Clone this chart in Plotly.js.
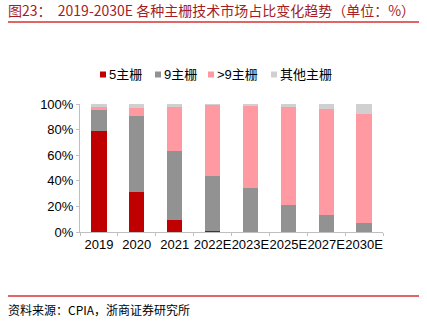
<!DOCTYPE html>
<html><head><meta charset="utf-8">
<script src="https://cdn.plot.ly/plotly-3.0.1.min.js"></script>
<style>html,body{margin:0;padding:0;background:#fff}#chart{width:427px;height:329px}</style>
</head><body><div id="chart"></div>
<script>
var categories = ['2019','2020','2021','2022E','2023E','2025E','2027E','2030E'];
var seriesNames = ['5主栅','9主栅','>9主栅','其他主栅'];
var s5 = [79, 31, 9, 1, 0.3, 0, 0, 0];
var s9 = [16, 60, 54, 43, 34, 21, 13, 7];
var sOver9 = [3, 6, 35, 55, 64, 77, 83, 85];
var sOther = [2, 3, 2, 1, 1.7, 2, 4, 8];
var yTickVals = [0, 20, 40, 60, 80, 100];
var yTickText = ['0%','20%','40%','60%','80%','100%'];
var colors = ['#c00000','#929292','#ff9aa3','#d0d0d0'];
var seriesData = [s5, s9, sOver9, sOther];

var L = 80, R = 383, T = 104, B = 232, W = 427, H = 329;
function px(x){ return (x - L) / (R - L); }
function py(y){ return (B - y) / (B - T); }

var traces = seriesData.map(function(d, i){
  return {type:'bar', x:categories, y:d, name:seriesNames[i],
    marker:{color:colors[i], line:{width:0}}, hoverinfo:'none'};
});

var legendMarkX = [100, 155, 208, 271];
var shapes = [
  {type:'line', xref:'paper', yref:'paper', x0:px(8), x1:px(419), y0:py(22), y1:py(22), line:{color:'#e06666', width:2}},
  {type:'line', xref:'paper', yref:'paper', x0:px(8), x1:px(419), y0:py(296), y1:py(296), line:{color:'#e06666', width:2}}
];
var annotations = [
  {xref:'paper', yref:'paper', x:px(6), y:py(10), xanchor:'left', yanchor:'middle', showarrow:false,
   text:'图23：  2019-2030E 各种主栅技术市场占比变化趋势（单位：%）',
   font:{family:'Noto Sans CJK SC', size:14, color:'#a51c24'}},
  {xref:'paper', yref:'paper', x:px(6), y:py(309), xanchor:'left', yanchor:'middle', showarrow:false,
   text:'资料来源：CPIA，浙商证券研究所', font:{family:'Noto Sans CJK SC', size:12, color:'#000'}}
];
legendMarkX.forEach(function(mx, i){
  shapes.push({type:'rect', xref:'paper', yref:'paper', x0:px(mx), x1:px(mx+6), y0:py(71.5), y1:py(77.5),
    fillcolor:colors[i], line:{width:0}});
  annotations.push({xref:'paper', yref:'paper', x:px(mx+7), y:py(74.5), xanchor:'left', yanchor:'middle',
    showarrow:false, text:seriesNames[i], font:{family:'Liberation Sans, Noto Sans CJK SC', size:13, color:'#000'}});
});

var layout = {
  width:W, height:H, margin:{l:L, r:W-R, t:T, b:H-B, pad:0},
  paper_bgcolor:'#fff', plot_bgcolor:'#fff',
  barmode:'stack', bargap:0.6, showlegend:false,
  xaxis:{type:'category', showline:true, linecolor:'#bfbfbf', linewidth:1, ticks:'outside', tickson:'boundaries',
    ticklen:3, tickcolor:'#bfbfbf', showgrid:false, zeroline:false, tickangle:0, automargin:false,
    tickfont:{family:'Liberation Sans', size:13, color:'#000'}},
  yaxis:{range:[0,100], tickvals:yTickVals, ticktext:yTickText, showline:true, linecolor:'#bfbfbf', linewidth:1,
    ticks:'outside', ticklen:3, tickcolor:'#bfbfbf', showgrid:false, zeroline:false, automargin:false,
    tickfont:{family:'Liberation Sans', size:13, color:'#000'}},
  shapes:shapes, annotations:annotations
};
Plotly.newPlot('chart', traces, layout, {displayModeBar:false, staticPlot:true});
</script></body></html>
